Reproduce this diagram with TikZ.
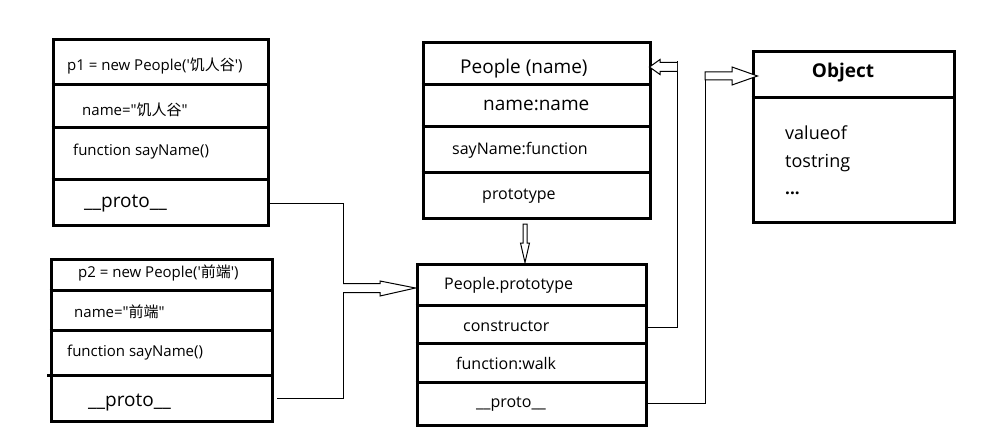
\documentclass[tikz,border=0pt]{standalone}
\usepackage{fontspec}
\setmainfont{Open Sans}[Ligatures=TeXOff]
\newfontfamily\cjk{Noto Sans CJK SC}
\usetikzlibrary{calc}
\begin{document}
\begin{tikzpicture}[x=1pt,y=-1pt,
  box/.style={draw, line width=3pt, inner sep=0pt},
  div/.style={line width=3pt},
  lbl/.style={anchor=west, inner sep=0pt, font=\fontsize{15}{17}\selectfont},
  mid/.style={lbl, font=\fontsize{16}{18}\selectfont},
  big/.style={lbl, font=\fontsize{19}{21}\selectfont},
  wire/.style={line width=1pt},
  hollow/.style={draw, line width=1pt, fill=white, line join=miter}]
\useasboundingbox (0,0) rectangle (1007,433);

% ---- p1 box
\node[box, minimum width=215, minimum height=185] (p1) at (160.5,132.5) {};
\foreach \yy in {85,128,180} \draw[div] (p1.west |- 0,\yy) -- (p1.east |- 0,\yy);
\node[lbl] (p1a) at (67,66) {p1 = new People('{\cjk 饥人谷}')};
\node[lbl] (p1b) at (82,110) {name="{\cjk 饥人谷}"};
\node[lbl] (p1c) at (73,152) {function sayName()};
\node[big] (p1d) at (84,204) {\_\_proto\_\_};

% ---- p2 box
\node[box, minimum width=221, minimum height=162] (p2) at (161.5,340) {};
\foreach \yy in {290,330} \draw[div] (p2.west |- 0,\yy) -- (p2.east |- 0,\yy);
\draw[div] (47,375) -- (p2.east |- 0,375);
\node[lbl] (p2a) at (78,273) {p2 = new People('{\cjk 前端}')};
\node[lbl] (p2b) at (74,312) {name="{\cjk 前端}"};
\node[lbl] (p2c) at (67,353) {function sayName()};
\node[big] (p2d) at (88,403) {\_\_proto\_\_};

% ---- People box
\node[box, minimum width=227, minimum height=175] (pe) at (536.5,130.5) {};
\foreach \yy in {85,127,173} \draw[div] (pe.west |- 0,\yy) -- (pe.east |- 0,\yy);
\node[big] (pea) at (460,69) {People (name)};
\node[big] (peb) at (483,105) {name:name};
\node[mid] (pec) at (452,150) {sayName:function};
\node[mid] (ped) at (482,196) {prototype};

% ---- People.prototype box
\node[box, minimum width=229, minimum height=161] (pp) at (531.5,344.5) {};
\foreach \yy in {305,343,382} \draw[div] (pp.west |- 0,\yy) -- (pp.east |- 0,\yy);
\node[mid] (ppa) at (444,285) {People.prototype};
\node[mid] (ppb) at (463,326) {constructor};
\node[mid] (ppc) at (456,363) {function:walk};
\node[mid] (ppd) at (476,404) {\_\_proto\_\_};

% ---- Object box
\node[box, minimum width=201, minimum height=170] (ob) at (853.5,137) {};
\draw[div] (ob.west |- 0,98) -- (ob.east |- 0,98);
\node[font=\fontsize{19}{21}\selectfont\bfseries, inner sep=0pt] (oba) at (843,73) {Object};
\node[lbl, font=\fontsize{18}{20}\selectfont] (obb) at (785,133) {valueof};
\node[lbl, font=\fontsize{18}{20}\selectfont] (obc) at (785,163) {tostring};
\node[lbl, font=\fontsize{17}{19}\selectfont\bfseries] (obd) at (785,193) {...};

% ---- connectors p1/p2 __proto__ -> People.prototype
\coordinate (j1) at (343,203);
\coordinate (j2) at (343,398);
\coordinate (ja) at (343,288);
\draw[wire] (p1.east |- j1) -- (j1) -- (j2) -- ($(p2.east |- j2)+(3,0)$);
\draw[hollow] ($(ja)+(0,-4.5)$) -- (380,283.5) -- (380,281) -- (pp.west |- ja)
  -- (380,296) -- (380,292.5) -- ($(ja)+(0,4.5)$);

% ---- People -> People.prototype
\coordinate (d0) at (525,224);
\draw[hollow] ($(d0)+(-2,0)$) -- (523,243) -- (520.5,243) -- (pp.north -| d0)
  -- (529.5,243) -- (527,243) -- ($(d0)+(2,0)$) -- cycle;

% ---- constructor -> People
\coordinate (c1) at (677,327);
\coordinate (c2) at (677,61);
\coordinate (ca) at (677,67);
\draw[wire] (pp.east |- c1) -- (c1) -- (c2);
\draw[hollow] ($(ca)+(0,-4.5)$) -- (660,62.5) -- (660,59.5) -- ($(pe.east |- ca)+(-2,0)$)
  -- (660,74.5) -- (660,71.5) -- ($(ca)+(0,4.5)$);

% ---- People.prototype __proto__ -> Object
\coordinate (o1) at (705,403);
\coordinate (oa) at (705,76);
\draw[wire] ($(pp.east |- o1)+(-2,0)$) -- (o1) -- ($(oa)+(0,4)$);
\draw[hollow] ($(oa)+(0,-4)$) -- (732,72) -- (732,67) -- ($(ob.west |- oa)+(6,0)$)
  -- (732,85) -- (732,80) -- ($(oa)+(0,4)$) -- cycle;
\end{tikzpicture}
\end{document}
